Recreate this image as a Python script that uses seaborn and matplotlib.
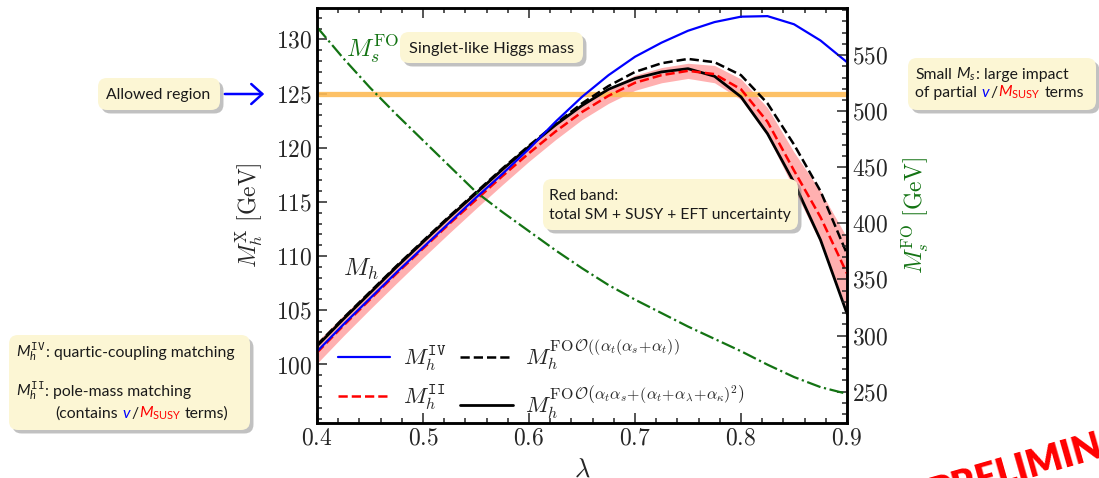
import numpy as np
import pandas as pd
import seaborn as sns
import matplotlib.pyplot as plt
import matplotlib.patheffects as pe
import matplotlib.transforms as mtransforms
from matplotlib.patches import FancyBboxPatch, FancyArrowPatch
from matplotlib.ticker import MultipleLocator

# values
lam = [0.400, 0.425, 0.450, 0.475, 0.500, 0.525, 0.550, 0.575, 0.600, 0.625, 0.650,
       0.675, 0.700, 0.725, 0.750, 0.775, 0.800, 0.825, 0.850, 0.875, 0.900]
mh_iv = [101.2, 103.7, 106.1, 108.5, 110.8, 113.1, 115.4, 117.6, 119.9, 122.4, 124.7,
         126.7, 128.4, 129.7, 130.8, 131.6, 132.1, 132.15, 131.4, 129.9, 127.9]
mh_ii = [101.1, 103.6, 106.0, 108.4, 110.7, 113.0, 115.2, 117.4, 119.5, 121.5, 123.3,
         124.8, 126.0, 126.7, 127.1, 126.8, 125.4, 122.4, 117.9, 113.6, 108.4]
mh_ii_err = [1.0, 0.95, 0.9, 0.9, 0.85, 0.85, 0.8, 0.8, 0.75, 0.75, 0.7,
             0.7, 0.7, 0.7, 0.7, 0.8, 0.95, 1.3, 1.7, 2.4, 3.3]
mh_fo_2l = [101.8, 104.3, 106.7, 109.1, 111.4, 113.7, 115.9, 118.1, 120.2, 122.2, 124.1,
            125.7, 127.0, 127.8, 128.2, 127.9, 126.7, 124.1, 120.3, 116.0, 110.2]
mh_fo_full = [101.7, 104.2, 106.6, 109.0, 111.3, 113.6, 115.8, 118.0, 120.1, 122.1, 123.9,
              125.4, 126.4, 127.0, 127.3, 126.6, 124.7, 121.3, 116.8, 111.5, 104.7]
ms_fo = [575, 547, 521, 497, 474, 451, 428, 410, 393, 376, 360,
         345, 332, 320, 308, 297, 286, 274, 263, 254, 248]

df = pd.DataFrame({'lam': lam, 'iv': mh_iv, 'ii': mh_ii, 'err': mh_ii_err,
                   'fo2': mh_fo_2l, 'fo': mh_fo_full, 'ms': ms_fo})

sns.set_theme(style='ticks')
plt.rcParams['font.family'] = ['cmr10', 'DejaVu Serif']
plt.rcParams['mathtext.fontset'] = 'cm'
plt.rcParams['axes.formatter.use_mathtext'] = True
plt.rcParams['mathtext.rm'] = 'Lato'
plt.rcParams['mathtext.it'] = 'Lato:italic'
plt.rcParams['mathtext.bf'] = 'Lato:bold'
plt.rcParams['mathtext.sf'] = 'Lato'

W, H = 1099, 478
GREEN = '#137313'
fig = plt.figure(figsize=(W / 100, H / 100), dpi=100)
ax = fig.add_axes([317 / W, 1 - 423 / H, 530 / W, 415 / H])
ax2 = ax.twinx()

# band + allowed region
ax.fill_between(df['lam'], df['ii'] - df['err'], df['ii'] + df['err'],
                color='#ffb0b0', lw=0, zorder=1)
ax.axhline(125, color='#fdbb55', lw=3.8, alpha=0.9, zorder=1.5)

sns.lineplot(data=df, x='lam', y='fo', ax=ax, color='black', lw=2.0, zorder=3)
sns.lineplot(data=df, x='lam', y='fo2', ax=ax, color='black', lw=1.8, linestyle='--', zorder=3.1)
sns.lineplot(data=df, x='lam', y='ii', ax=ax, color='red', lw=1.8, linestyle='--', zorder=3.2)
sns.lineplot(data=df, x='lam', y='iv', ax=ax, color='blue', lw=1.6, zorder=3.3)
sns.lineplot(data=df, x='lam', y='ms', ax=ax2, color=GREEN, lw=1.6, linestyle='-.')

l_fo, l_fo2, l_ii, l_iv = ax.lines[1:5]
ax.legend([l_iv, l_ii, l_fo2, l_fo],
          [r'$M_h^{\mathtt{IV}}$', r'$M_h^{\mathtt{II}}$',
           r'$M_h^{\mathrm{FO}\,\mathcal{O}((\alpha_t(\alpha_s\!+\!\alpha_t))}$',
           r'$M_h^{\mathrm{FO}\,\mathcal{O}\left(\alpha_t\alpha_s\!+\!(\alpha_t\!+\!\alpha_\lambda\!+\!\alpha_\kappa)^2\right)}$'],
          ncol=2, loc='lower left', bbox_to_anchor=(0.0, -0.045), frameon=False,
          fontsize=16.5, handlelength=2.3, handletextpad=0.55, labelspacing=0.45,
          columnspacing=0.6)

ax.set_xlim(0.4, 0.9)
ax.set_ylim(94.6, 132.9)
ax2.set_ylim(222, 592)
ax.xaxis.set_major_locator(MultipleLocator(0.1))
ax.xaxis.set_minor_locator(MultipleLocator(0.02))
ax.set_yticks([100, 105, 110, 115, 120, 125, 130])
ax.yaxis.set_minor_locator(MultipleLocator(1))
ax2.yaxis.set_major_locator(MultipleLocator(50))
ax2.yaxis.set_minor_locator(MultipleLocator(10))
ax.tick_params(which='both', direction='in', top=True, right=False, labelsize=17, width=1.1)
ax.tick_params(which='major', length=7)
ax.tick_params(which='minor', length=3.5)
ax2.tick_params(which='both', direction='in', labelsize=17, width=1.1)
ax2.tick_params(which='major', length=7)
ax2.tick_params(which='minor', length=3.5)
for a in (ax, ax2):
    for s in a.spines.values():
        s.set_linewidth(1.8)
        s.set_color('black')

ax.set_xlabel(r'$\lambda$', fontsize=19, labelpad=6)
ax.set_ylabel(r'$M_h^{\mathrm{X}}\ [\mathrm{GeV}]$', fontsize=17, labelpad=8)
ax2.set_ylabel(r'$M_s^{\mathrm{FO}}\ [\mathrm{GeV}]$', fontsize=17, color=GREEN, labelpad=8)

ax.text(0.4415, 108.8, r'$M_h$', fontsize=18, ha='center', va='center')
ax.text(0.452, 129.1, r'$M_s^{\mathrm{FO}}$', fontsize=18, color=GREEN, ha='center', va='center')

# annotation boxes, placed in pixel coordinates
ID = mtransforms.IdentityTransform()
FS = 11.3


def note_box(x0, y0, x1, y1):
    p = FancyBboxPatch((x0, H - y1), x1 - x0, y1 - y0,
                       boxstyle='round,pad=0,rounding_size=9', transform=ID,
                       fc='#fcf6d4', ec='none', zorder=10)
    p.set_path_effects([pe.SimplePatchShadow(offset=(2.5, -2.5), shadow_rgbFace='#777777', alpha=0.45),
                        pe.Normal()])
    fig.add_artist(p)


rend = fig.canvas.get_renderer()


def text_w(s):
    t = fig.text(0, 0, s, transform=ID, fontsize=FS, family='Lato', math_fontfamily='custom')
    w = t.get_window_extent(renderer=rend).width
    t.remove()
    return w


SP = text_w('a a') - text_w('aa')


def note_line(x, y, pieces, fs=FS):
    for s, c in pieces:
        if s == ' ':
            x += SP
            continue
        t = fig.text(x, H - y, s, color=c, transform=ID, fontsize=fs, family='Lato',
                     math_fontfamily='custom', ha='left', va='baseline', zorder=11)
        x += t.get_window_extent(renderer=rend).width


note_box(400, 32, 583, 63)
note_line(409, 53, [('Singlet-like Higgs mass', 'k')], fs=11.8)

note_box(98, 78, 220, 110)
note_line(106, 99, [('Allowed region', 'k')])
fig.add_artist(FancyArrowPatch((222, H - 94), (267, H - 94), transform=ID,
                               arrowstyle='->,head_length=0.5,head_width=0.45',
                               mutation_scale=16, color='blue', lw=1.8))

note_box(543, 179, 798, 230)
note_line(549, 200, [('Red band:', 'k')])
note_line(549, 219, [('total SM + SUSY + EFT uncertainty', 'k')])

note_box(9, 335, 250, 430)
note_line(16, 357, [(r'$M_h^{\mathtt{IV}}$', 'k'), (': quartic-coupling matching', 'k')])
note_line(16, 396, [(r'$M_h^{\mathtt{II}}$', 'k'), (': pole-mass matching', 'k')])
note_line(55, 418, [('(contains', 'k'), (' ', None), (r'$v$', 'blue'), ('/', 'k'),
                    (r'$M_{\mathrm{SUSY}}$', 'red'), (' ', None), ('terms)', 'k')])

note_box(908, 58, 1096, 110)
note_line(915, 79, [('Small', 'k'), (' ', None), (r'$M_s$', 'k'), (': large impact', 'k')])
note_line(915, 97, [('of partial', 'k'), (' ', None), (r'$v$', 'blue'), ('/', 'k'),
                    (r'$M_{\mathrm{SUSY}}$', 'red'), (' ', None), ('terms', 'k')])

fig.text(933, H - 505, 'PRELIMINARY', transform=ID, rotation=16, rotation_mode='anchor',
         ha='left', va='baseline', fontsize=27, family='Lato', weight='heavy', color='red')

fig.savefig('out.png', dpi=100)
